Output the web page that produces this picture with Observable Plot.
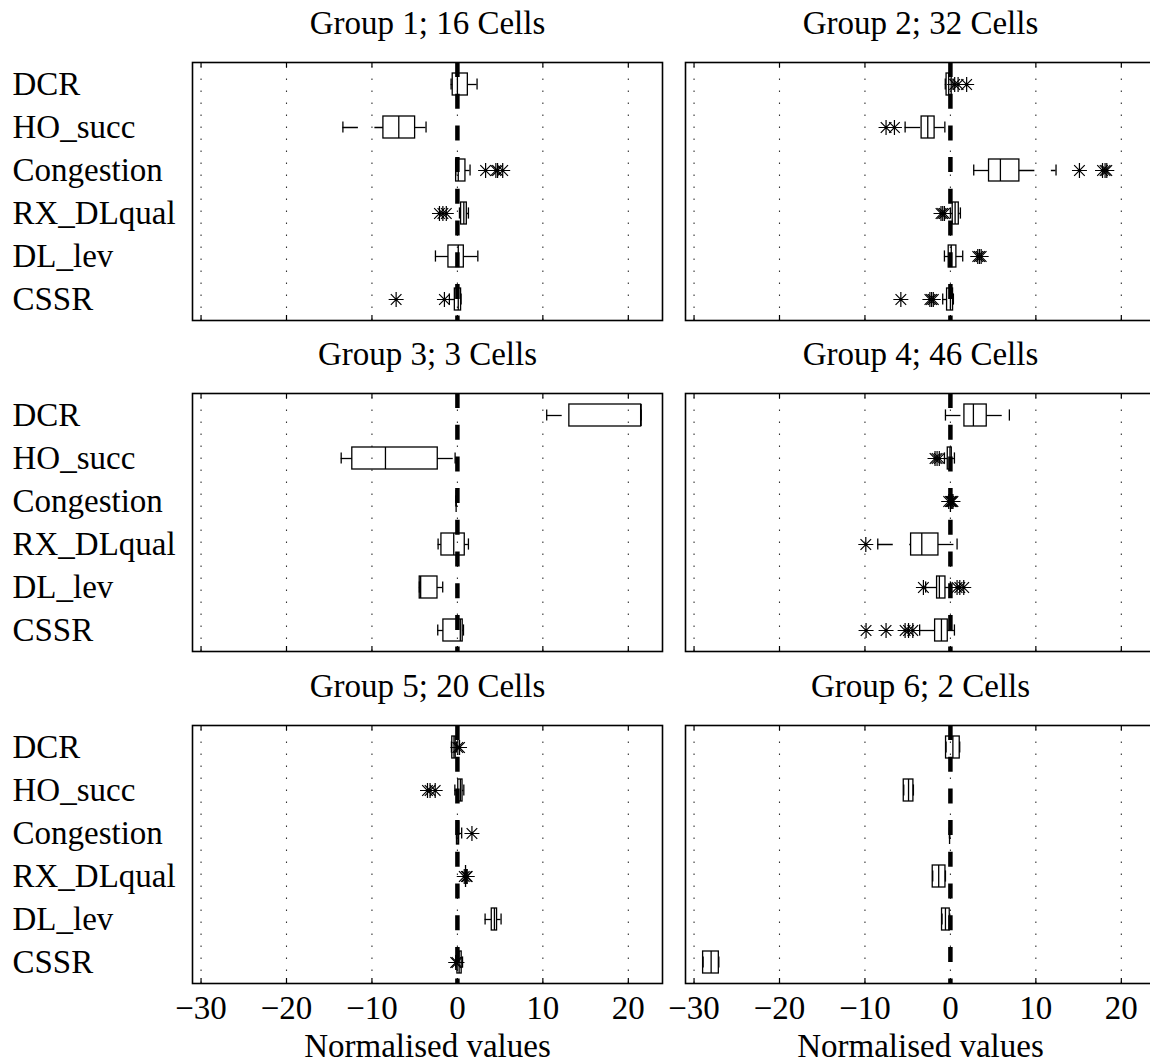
<!DOCTYPE html>
<html>
<head>
<meta charset="utf-8">
<script src="https://cdn.jsdelivr.net/npm/d3@7"></script>
<script src="https://cdn.jsdelivr.net/npm/@observablehq/plot@0.6"></script>
<style>
html, body { margin: 0; padding: 0; background: #fff; overflow: hidden; }
#chart { position: relative; width: 1150px; height: 1064px; overflow: hidden; background: #fff; }
#chart > div { position: absolute; overflow: visible; }
#chart svg { max-width: none !important; overflow: visible; font-family: "Liberation Serif", "Times New Roman", Times, serif; }
#chart svg text { font-family: "Liberation Serif", "Times New Roman", Times, serif; }
</style>
</head>
<body>
<div id="chart"></div>
<script>
// ---------- data ----------
const categories = ["DCR", "HO_succ", "Congestion", "RX_DLqual", "DL_lev", "CSSR"];
const groupTitles = ["Group 1; 16 Cells", "Group 2; 32 Cells", "Group 3; 3 Cells",
                     "Group 4; 46 Cells", "Group 5; 20 Cells", "Group 6; 2 Cells"];
const xTicks = [-30, -20, -10, 0, 10, 20];
const xLabel = "Normalised values";

// per group, per category (order of categories)
const whiskerLow = [
  [-0.74, -13.4, -0.2, 0.24, -2.57, -0.94],
  [-0.6, -5.3, 2.73, 0.0, -0.7, -0.9],
  [10.45, -13.6, -0.15, -2.26, -4.45, -2.3],
  [-0.58, -0.7, 0, -8.5, -2.9, -3.6],
  [-0.7, -0.3, -0.1, 0.95, 3.24, -0.2],
  [-0.51, -5.46, -0.1, -2.07, -0.98, -28.94]
];
const quartile1 = [
  [-0.55, -8.66, -0.15, 0.43, -1.05, -0.3],
  [-0.45, -3.37, 4.52, 0.27, -0.2, -0.39],
  [13.1, -12.3, -0.15, -1.87, -4.41, -1.64],
  [1.64, -0.31, 0, -4.6, -1.56, -1.79],
  [-0.6, 0.1, -0.05, 0.95, 4.02, 0.0],
  [-0.51, -5.46, -0.1, -2.07, -0.98, -28.94]
];
const medians = [
  [0.0, -6.86, 0.1, 0.75, 0.1, 0.1],
  [-0.2, -2.65, 5.85, 0.55, 0.1, 0.0],
  [21.5, -8.42, -0.15, -0.43, -4.3, 0.34],
  [2.69, -0.05, 0, -3.35, -1.29, -1.05],
  [-0.4, 0.35, 0.05, 0.95, 4.33, 0.2],
  [0.29, -4.9, -0.1, -1.37, -0.58, -28.0]
];
const quartile3 = [
  [1.22, -4.95, 0.94, 1.1, 0.75, 0.43],
  [0.15, -1.85, 8.07, 0.98, 0.7, 0.31],
  [21.5, -2.3, -0.15, 0.86, -2.33, 0.62],
  [4.25, 0.16, 0, -1.4, -0.58, -0.31],
  [-0.2, 0.6, 0.2, 0.95, 4.64, 0.5],
  [1.09, -4.33, -0.1, -0.58, -0.08, -27.1]
];
const whiskerHigh = [
  [2.3, -3.67, 1.48, 1.29, 2.39, 0.43],
  [0.3, -0.65, 12.36, 1.17, 1.44, 0.35],
  [21.5, -0.27, -0.15, 1.29, -1.72, 0.71],
  [6.9, 0.47, 0, 0.78, 0.0, 0.47],
  [-0.1, 0.75, 0.5, 0.95, 5.11, 0.6],
  [1.09, -4.33, -0.1, -0.58, -0.08, -27.1]
];
const outliers = [
  [[], [], [3.3, 4.5, 4.7, 5.3], [-2.1, -1.7, -1.3], [], [-7.17, -1.52]],
  [[0.5, 0.9, 1.9], [-7.53, -6.55], [15.1, 17.8, 18.1, 18.3], [-1.1, -0.9, -0.7], [3.2, 3.4, 3.6], [-5.8, -2.4, -2.2, -2.0]],
  [[], [], [], [], [], []],
  [[], [-1.8, -1.56, -1.3], [-0.2, 0, 0.1, 0.2, 0.3], [-9.9], [-3.16, 0.78, 1.1, 1.56], [-9.87, -7.53, -5.3, -4.9, -4.4]],
  [[0.05, 0.25], [-3.5, -3.2, -2.6], [1.7], [0.8, 1.05, 1.15], [], [-0.2, -0.05]],
  [[], [], [], [], [], []]
];

// ---------- layout ----------
const frameTops = [61.7, 393.3, 725.3];
const frameLefts = [192, 684.7];
const frameW = 470, frameH = 258;
const FONT = "Liberation Serif";
const FS = 33;

const asterisk = {
  draw(ctx, size) {
    const r = Math.sqrt(size / Math.PI);
    const d = r * Math.SQRT1_2;
    ctx.moveTo(-r, 0); ctx.lineTo(r, 0);
    ctx.moveTo(0, -r); ctx.lineTo(0, r);
    ctx.moveTo(-d, -d); ctx.lineTo(d, d);
    ctx.moveTo(-d, d); ctx.lineTo(d, -d);
  }
};

const fmt = d => d < 0 ? "\u2212" + (-d) : String(d);
const chart = document.getElementById("chart");

for (let g = 0; g < 6; g++) {
  const row = Math.floor(g / 2), col = g % 2;
  const stats = categories.map((cat, i) => ({
    cat,
    lo: whiskerLow[g][i], q1: quartile1[g][i], med: medians[g][i],
    q3: quartile3[g][i], hi: whiskerHigh[g][i]
  }));
  const outs = categories.flatMap((cat, i) => outliers[g][i].map(v => ({cat, v})));

  const marginTop = 62;
  const marginBottom = row === 2 ? 100 : 4;
  const marginLeft = col === 0 ? 192 : 30;
  const marginRight = 8;
  const width = marginLeft + frameW + marginRight;
  const height = marginTop + frameH + marginBottom;

  const textOpts = {fontSize: FS, fontFamily: FONT, fill: "black"};
  const marks = [
    Plot.ruleX(xTicks, {x: d => d, stroke: "#333", strokeWidth: 1.1, strokeDasharray: "1.5,10.5", strokeDashoffset: 7.4}),
    Plot.ruleY(stats, {y: "cat", x1: "lo", x2: "q1", stroke: "black", strokeWidth: 1.3, strokeDasharray: "15.5,16.5"}),
    Plot.ruleY(stats, {y: "cat", x1: "q3", x2: "hi", stroke: "black", strokeWidth: 1.3, strokeDasharray: "15.5,16.5"}),
    Plot.tickX(stats, {x: "lo", y: "cat", stroke: "black", strokeWidth: 1.3, insetTop: 5.4, insetBottom: 5.4}),
    Plot.tickX(stats, {x: "hi", y: "cat", stroke: "black", strokeWidth: 1.3, insetTop: 5.4, insetBottom: 5.4}),
    Plot.barX(stats, {x1: "q1", x2: "q3", y: "cat", fill: "none", stroke: "black", strokeWidth: 1.3}),
    Plot.tickX(stats, {x: "med", y: "cat", stroke: "black", strokeWidth: 1.3}),
    Plot.dot(outs, {x: "v", y: "cat", symbol: asterisk, r: 7.5, stroke: "black", strokeWidth: 1.2, fill: "none"}),
    Plot.ruleX([0], {x: d => d, stroke: "black", strokeWidth: 4.5, strokeDasharray: "15,16.7"}),
    Plot.ruleX(xTicks, {x: d => d, stroke: "black", strokeWidth: 1.2, insetBottom: frameH - 5}),
    Plot.ruleX(xTicks, {x: d => d, stroke: "black", strokeWidth: 1.2, insetTop: frameH - 5}),
    Plot.frame({stroke: "black", strokeWidth: 1.6}),
    Plot.text([groupTitles[g]], {text: d => d, frameAnchor: "top", dy: -28.5, lineAnchor: "bottom", ...textOpts})
  ];
  if (col === 0) {
    marks.push(Plot.text(categories, {y: d => d, text: d => d, frameAnchor: "left", dx: -180, textAnchor: "start", ...textOpts}));
  }
  if (row === 2) {
    marks.push(Plot.text(xTicks, {x: d => d, text: fmt, frameAnchor: "bottom", dy: 35, lineAnchor: "bottom", ...textOpts}));
    marks.push(Plot.text([xLabel], {text: d => d, frameAnchor: "bottom", dy: 73, lineAnchor: "bottom", ...textOpts}));
  }

  const svg = Plot.plot({
    width, height,
    marginTop, marginBottom, marginLeft, marginRight,
    style: {fontFamily: FONT, fontSize: FS + "px", background: "transparent", color: "black", maxWidth: "none"},
    x: {domain: [-31, 24], axis: null},
    y: {type: "band", domain: categories, paddingInner: 0.5, paddingOuter: 0.25, axis: null},
    marks
  });
  svg.style.maxWidth = "none";
  svg.style.width = width + "px";
  svg.style.height = height + "px";
  const wrap = document.createElement("div");
  wrap.style.left = (frameLefts[col] - marginLeft) + "px";
  wrap.style.top = (frameTops[row] - marginTop) + "px";
  wrap.style.width = width + "px";
  wrap.style.height = height + "px";
  wrap.appendChild(svg);
  chart.appendChild(wrap);
}
</script>
</body>
</html>
